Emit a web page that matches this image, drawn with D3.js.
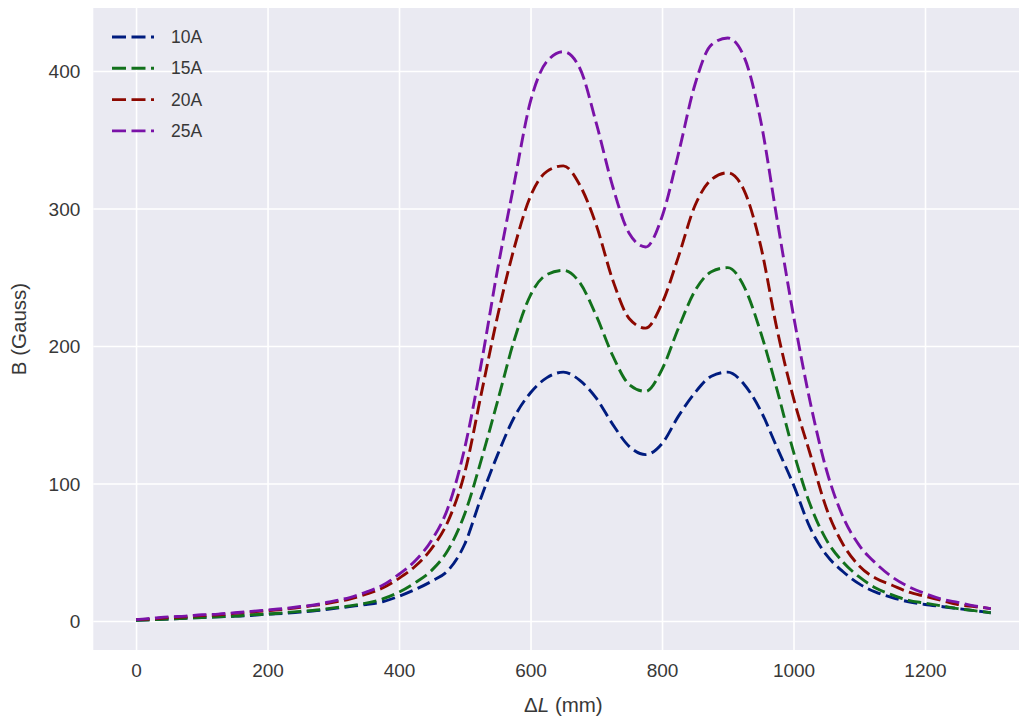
<!DOCTYPE html>
<html>
<head>
<meta charset="utf-8">
<script src="https://cdn.jsdelivr.net/npm/d3@7"></script>
<style>
  body { margin: 0; background: #fff; }
  svg { display: block; font-family: "Liberation Sans", Arial, sans-serif; }
</style>
</head>
<body>
<div class="chart"></div>
<script>
// Probe position along the magnet (mm)
const positions = [0, 25, 50, 75, 100, 125, 150, 175, 200, 225, 250, 275, 300, 325, 350, 375,
  400, 425, 450, 475, 500, 525, 550, 575, 600, 625, 650, 675, 700, 725, 750, 775,
  800, 825, 850, 875, 900, 925, 950, 975, 1000, 1025, 1050, 1075, 1100, 1125, 1150,
  1175, 1200, 1225, 1250, 1275, 1300];

// Field readings (Gauss) for each current
const b10A = [0.5, 1, 1.5, 2, 2.5, 3, 3.5, 4, 5, 5.5, 6.5, 7.5, 9, 10.5, 12, 14,
  18, 23, 29, 37, 56, 90, 121, 148, 166, 177, 181, 175, 162, 143, 127, 121,
  129, 149, 166, 178, 181, 172, 153, 126, 99, 68, 48, 36, 27, 21, 17,
  14, 12, 10.5, 9, 7.5, 6];
const b15A = [0.5, 1, 1.5, 2, 2.5, 3, 3.5, 4.5, 5, 6, 7, 8, 9.5, 11, 13, 16,
  21, 28, 37, 52, 78, 117, 160, 204, 237, 252, 255, 246, 222, 193, 172, 167,
  183, 213, 240, 254, 257, 243, 210, 168, 123, 85, 59, 43, 32, 24, 19,
  15, 13, 11, 9, 7.5, 6];
const b20A = [1, 1.5, 2.5, 3, 4, 4.5, 5.5, 6.5, 7.5, 8.5, 10, 11.5, 13.5, 16, 19.5, 24,
  31, 40, 53, 73, 108, 165, 222, 271, 309, 327, 331, 317, 288, 248, 220, 213,
  231, 265, 302, 321, 326, 313, 273, 212, 162, 122, 82, 56, 40, 31, 26,
  21, 18, 15, 12, 10.5, 9];
const b25A = [1, 2, 3, 3.5, 4.5, 5, 6, 7, 8, 9, 10.5, 12, 14.5, 17, 21, 26,
  34, 44, 59, 83, 126, 187, 256, 318, 378, 407, 414, 402, 362, 316, 282, 272,
  294, 340, 390, 419, 424, 410, 364, 292, 222, 160, 110, 76, 55, 42, 32,
  25, 20, 16, 13.5, 11, 9];

const seriesNames = ["10A", "15A", "20A", "25A"];
const seriesColors = ["#001c7f", "#12711c", "#8c0800", "#7a12a8"];
const xTicks = [0, 200, 400, 600, 800, 1000, 1200];
const yTicks = [0, 100, 200, 300, 400];

const series = [b10A, b15A, b20A, b25A].map((vals, i) => ({
    name: seriesNames[i],
    color: seriesColors[i],
    values: positions.map((p, j) => ({ x: p, y: vals[j] }))
}));

const W = 1019, H = 724;
// axes box (right side runs past the window, as in the original crop)
const plot = { left: 93.3, top: 8, right: 1033.5, bottom: 650 };

const svg = d3.select(".chart").append("svg")
    .attr("width", W)
    .attr("height", H);

const x = d3.scaleLinear().domain([-65, 1365]).range([plot.left, plot.right]);
const y = d3.scaleLinear().domain([-21.1, 445.8]).range([plot.bottom, plot.top]);

// Background
svg.append("rect")
    .attr("x", plot.left)
    .attr("y", plot.top)
    .attr("width", plot.right - plot.left)
    .attr("height", plot.bottom - plot.top)
    .attr("fill", "#eaeaf2");

// Grid + tick labels
const gx = svg.append("g")
    .attr("transform", `translate(0,${plot.bottom})`)
    .call(d3.axisBottom(x).tickValues(xTicks).tickFormat(d3.format("d"))
        .tickSize(-(plot.bottom - plot.top)).tickPadding(14));
const gy = svg.append("g")
    .attr("transform", `translate(${plot.left},0)`)
    .call(d3.axisLeft(y).tickValues(yTicks).tickFormat(d3.format("d"))
        .tickSize(-(plot.right - plot.left)).tickPadding(13));

[gx, gy].forEach(g => {
    g.select(".domain").remove();
    g.selectAll(".tick line").attr("stroke", "#fff").attr("stroke-width", 1.6);
    g.selectAll(".tick text")
        .attr("fill", "#383838")
        .style("font-size", "19px")
        .style("font-family", "'Liberation Sans', Arial, sans-serif");
});
gy.selectAll(".tick text").attr("dy", "0.35em");

// Curves
const line = d3.line()
    .curve(d3.curveMonotoneX)
    .x(d => x(d.x))
    .y(d => y(d.y));

svg.append("g").selectAll("path")
    .data(series)
    .join("path")
    .attr("d", d => line(d.values))
    .attr("fill", "none")
    .attr("stroke", d => d.color)
    .attr("stroke-width", 2.9)
    .attr("stroke-dasharray", "13.5,5.5");

// Legend
const legend = svg.append("g").attr("transform", "translate(112,37)");
const rows = legend.selectAll("g")
    .data(series)
    .join("g")
    .attr("transform", (d, i) => `translate(0,${i * 31.3})`);
rows.append("line")
    .attr("x1", 0).attr("x2", 42)
    .attr("stroke", d => d.color)
    .attr("stroke-width", 2.9)
    .attr("stroke-dasharray", "14,5.5");
rows.append("text")
    .attr("x", 59)
    .attr("dy", "0.35em")
    .attr("fill", "#383838")
    .style("font-size", "17.5px")
    .text(d => d.name);

// Axis labels
const xl = svg.append("text")
    .attr("x", (plot.left + plot.right) / 2)
    .attr("y", 712)
    .attr("text-anchor", "middle")
    .attr("fill", "#383838")
    .style("font-size", "20.5px");
xl.append("tspan").text("\u0394");
xl.append("tspan").style("font-style", "italic").text("L");
xl.append("tspan").text(" (mm)");

svg.append("text")
    .attr("transform", `translate(26,${(plot.top + plot.bottom) / 2}) rotate(-90)`)
    .attr("text-anchor", "middle")
    .attr("fill", "#383838")
    .style("font-size", "20.5px")
    .text("B (Gauss)");
</script>
</body>
</html>
